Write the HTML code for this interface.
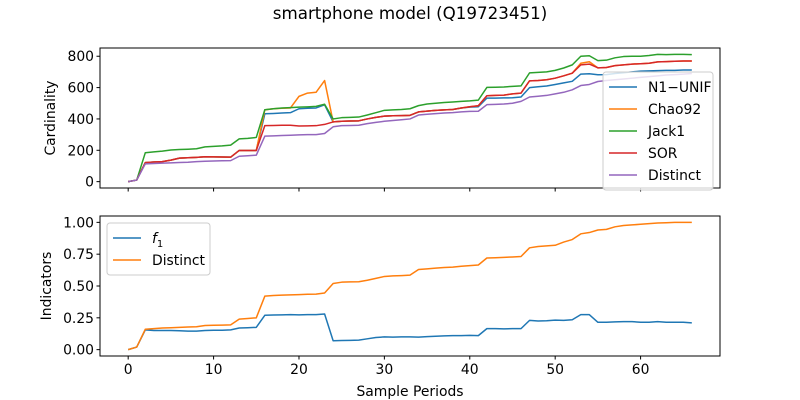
<!DOCTYPE html>
<html><head><meta charset="utf-8"><style>
body{margin:0;background:#fff;}
svg{display:block;font-family:"DejaVu Sans","Liberation Sans",sans-serif;}
</style></head><body>
<svg id="chart" width="800" height="400">
<rect width="800" height="400" fill="#fff"/>
<text x="410" y="19" font-size="16.7" text-anchor="middle">smartphone model (Q19723451)</text>
<g id="topPanel"></g>
<g id="botPanel"></g>
<text x="410" y="396" font-size="13.9" text-anchor="middle">Sample Periods</text>
<text transform="translate(55,118) rotate(-90)" font-size="13.9" text-anchor="middle">Cardinality</text>
<text transform="translate(51,286) rotate(-90)" font-size="13.9" text-anchor="middle">Indicators</text>
</svg>
<script>
const xTicks=[0,10,20,30,40,50,60];
const topTicks=[0,200,400,600,800];
const botTicks=[0,0.25,0.5,0.75,1.0];
const botTickLabels=["0.00","0.25","0.50","0.75","1.00"];
const jack1=[0,10,184,190,195,202,205,207,210,222,225,228,233,273,276,282,459,465,470,472,475,477,480,494,400,408,410,412,425,440,455,458,460,465,485,495,500,505,508,512,515,520,601,602,604,608,611,694,697,700,710,725,745,800,803,772,775,790,798,800,800,805,812,810,812,812,810];
const sor=[0,10,121,125,128,137,150,152,155,159,158,157,156,199,199,199,357,358,360,360,355,356,357,365,381,385,387,388,400,410,418,420,421,423,445,450,455,458,460,470,478,484,548,550,552,560,565,643,645,650,660,675,692,745,750,726,728,740,745,750,752,755,764,766,768,770,770];
const chao92=[0,10,121,125,128,137,150,152,155,159,158,157,156,199,199,199,458,465,468,470,544,565,570,645,381,385,387,388,400,410,418,420,421,423,445,450,455,458,460,470,478,484,548,550,552,560,565,643,645,650,660,675,692,755,765,726,728,740,745,750,752,755,764,766,768,770,770];
const n1unif=[0,10,121,125,128,137,150,152,155,159,158,157,156,199,199,199,433,435,438,440,465,468,470,490,381,385,387,388,400,410,418,420,421,423,445,450,455,458,460,470,475,478,533,533,534,535,540,600,605,610,620,630,640,686,688,682,683,690,695,700,705,707,708,710,710,712,712];
const distinct=[0,10,113,116,118,120,122,124,128,130,132,133,134,162,165,169,290,292,294,296,298,300,300,307,350,357,358,360,370,378,385,390,395,400,425,430,434,438,440,445,448,449,491,493,495,500,512,540,545,550,560,570,586,613,620,639,645,650,655,660,665,670,675,680,683,686,690];
const f1=[0,0.02,0.155,0.15,0.15,0.15,0.148,0.145,0.145,0.15,0.152,0.152,0.155,0.17,0.172,0.175,0.27,0.272,0.273,0.275,0.273,0.275,0.275,0.28,0.07,0.072,0.073,0.075,0.085,0.095,0.1,0.098,0.1,0.1,0.098,0.102,0.105,0.108,0.11,0.11,0.112,0.11,0.165,0.165,0.163,0.165,0.165,0.23,0.225,0.227,0.232,0.23,0.235,0.275,0.275,0.215,0.215,0.218,0.22,0.22,0.215,0.215,0.22,0.215,0.215,0.215,0.21];
const distinctRatio=[0,0.02,0.16,0.165,0.17,0.172,0.175,0.178,0.18,0.19,0.192,0.193,0.195,0.24,0.245,0.25,0.42,0.425,0.428,0.43,0.432,0.435,0.436,0.445,0.52,0.53,0.532,0.533,0.545,0.56,0.575,0.58,0.582,0.585,0.63,0.635,0.64,0.645,0.648,0.655,0.66,0.665,0.72,0.722,0.725,0.728,0.732,0.8,0.81,0.815,0.82,0.845,0.865,0.91,0.92,0.94,0.945,0.965,0.975,0.98,0.985,0.99,0.995,0.997,1.0,1.0,1.0];

const NS="http://www.w3.org/2000/svg";
const L=100,R=720;
const xs=v=>L+(v+3.3)/72.6*(R-L);
function mk(tag,attrs,parent){const e=document.createElementNS(NS,tag);for(const k in attrs)e.setAttribute(k,attrs[k]);parent.appendChild(e);return e;}
function panel(g,tp,bot,y0,y1,ticks,labels,series,showX){
  const ys=v=>bot-(v-y0)/(y1-y0)*(bot-tp);
  series.forEach(s=>{
    const p=mk('polyline',{points:s.d.map((v,i)=>xs(i)+','+ys(v)).join(' '),fill:'none',stroke:s.c,'stroke-width':1.5,'stroke-linejoin':'round'},g);
    
    
  });
  const fr=mk('rect',{x:L,y:tp,width:R-L,height:bot-tp,fill:'none',stroke:'#000','stroke-width':1},g);
  
  
  ticks.forEach((t,i)=>{
    mk('line',{x1:L-3.5,x2:L,y1:ys(t),y2:ys(t),stroke:'#000'},g);
    const tx=mk('text',{x:L-6,y:ys(t)+5,'font-size':13.9,'text-anchor':'end'},g);
    tx.textContent=labels[i];
    
    
  });
  xTicks.forEach(t=>{
    mk('line',{x1:xs(t),x2:xs(t),y1:bot,y2:bot+3.5,stroke:'#000'},g);
    if(showX){const tx=mk('text',{x:xs(t),y:bot+18,'font-size':13.9,'text-anchor':'middle'},g);
      tx.textContent=t;
      
      }
  });
}
function legend(g,x,y,w,items){
  const h=items.length*22+8;
  const b=mk('rect',{x:x,y:y,width:w,height:h,fill:'#fff','fill-opacity':0.8,stroke:'#ccc',rx:3},g);
  
  
  items.forEach((it,i)=>{
    const cy=y+15+i*22;
    mk('line',{x1:x+6,x2:x+34,y1:cy,y2:cy,stroke:it.c,'stroke-width':1.5},g);
    const t=mk('text',{x:x+45,y:cy+5,'font-size':13.9},g);
    t.innerHTML=it.n;
    
    
  });
}
const C={b:'#1f77b4',o:'#ff7f0e',g:'#2ca02c',r:'#d62728',p:'#9467bd'};
const topG=document.getElementById('topPanel'),botG=document.getElementById('botPanel');
panel(topG,48,188,-40.6,852.6,topTicks,topTicks.map(String),[
 {d:n1unif,c:C.b,n:'n1-unif'},{d:chao92,c:C.o,n:'chao92'},{d:jack1,c:C.g,n:'jack1'},{d:sor,c:C.r,n:'sor'},{d:distinct,c:C.p,n:'distinct'}],false);
panel(botG,216,356,-0.05,1.05,botTicks,botTickLabels,[
 {d:f1,c:C.b,n:'f1'},{d:distinctRatio,c:C.o,n:'distinct-ratio'}],true);
legend(topG,603,72,110,[{n:'N1\u2212UNIF',c:C.b},{n:'Chao92',c:C.o},{n:'Jack1',c:C.g},{n:'SOR',c:C.r},{n:'Distinct',c:C.p}]);
legend(botG,107,223,103,[{n:'<tspan font-style="italic">f</tspan><tspan font-size="10" dy="4">1</tspan>',c:C.b},{n:'Distinct',c:C.o}]);
</script>
</body></html>
